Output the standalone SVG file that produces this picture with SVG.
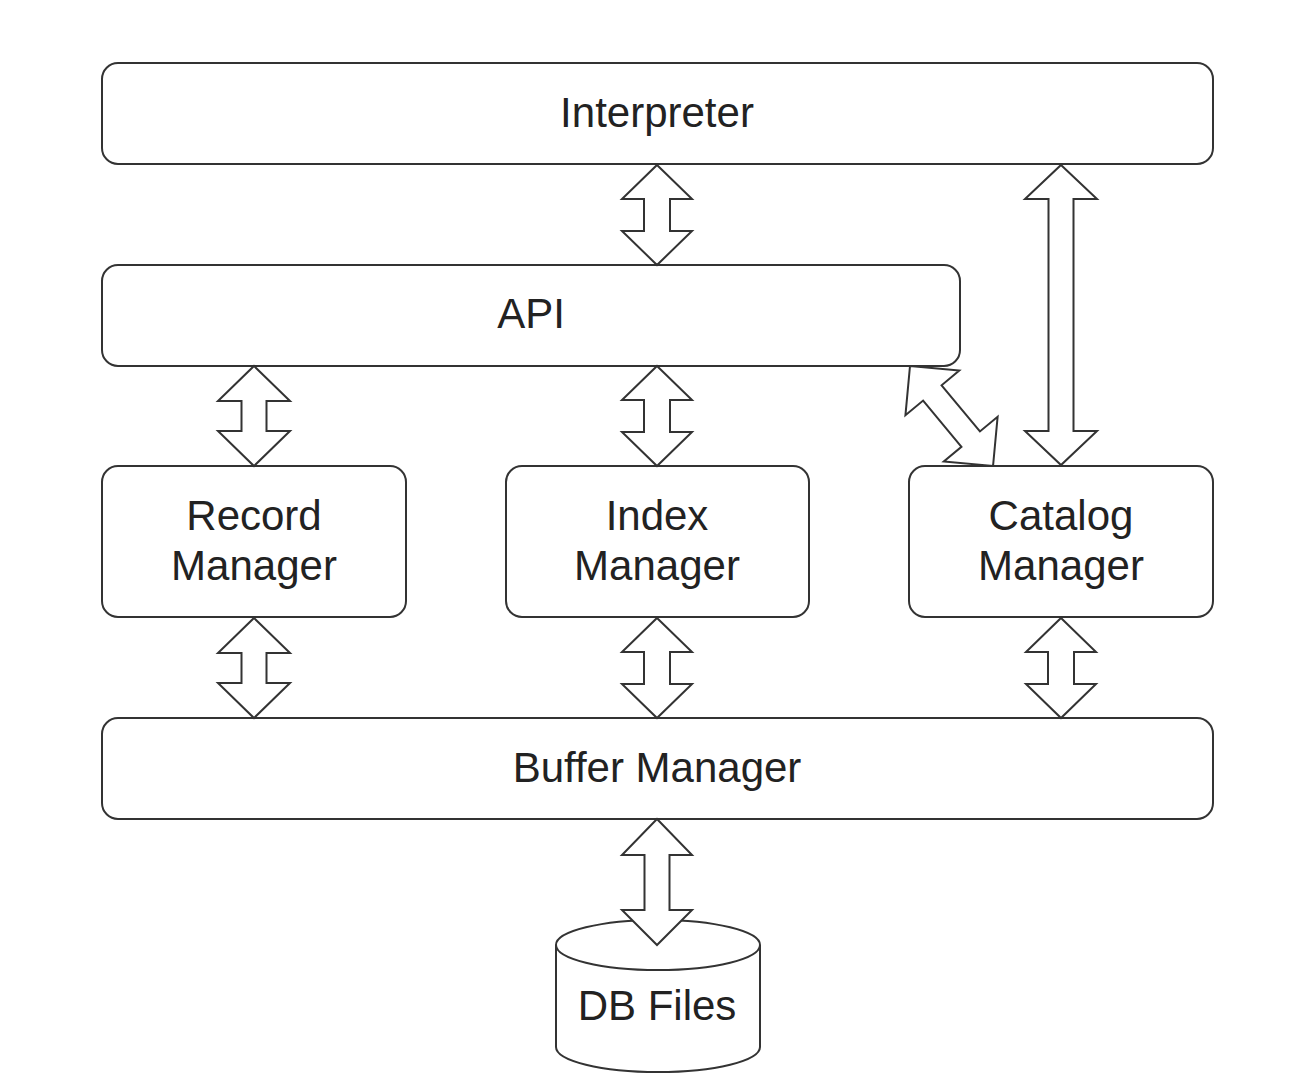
<svg xmlns="http://www.w3.org/2000/svg" width="1316" height="1090" viewBox="0 0 1316 1090">
<style>
.box{fill:#fff;stroke:#333;stroke-width:2}
.arr{fill:#fff;stroke:#333;stroke-width:2;stroke-linejoin:miter}
text{font-family:"Liberation Sans",Arial,sans-serif;font-size:42px;fill:#222;text-anchor:middle}
</style>
<rect width="1316" height="1090" fill="#fff"/>
<g id="interpreter"><rect class="box" x="102" y="63" width="1111" height="101" rx="16"/><text x="657" y="127">Interpreter</text></g>
<g id="api"><rect class="box" x="102" y="265" width="858" height="101" rx="16"/><text x="531" y="328">API</text></g>
<g id="record"><rect class="box" x="102" y="466" width="304" height="151" rx="16"/><text x="254" y="530">Record</text><text x="254" y="580">Manager</text></g>
<g id="index"><rect class="box" x="506" y="466" width="303" height="151" rx="16"/><text x="657" y="530">Index</text><text x="657" y="580">Manager</text></g>
<g id="catalog"><rect class="box" x="909" y="466" width="304" height="151" rx="16"/><text x="1061" y="530">Catalog</text><text x="1061" y="580">Manager</text></g>
<g id="buffer"><rect class="box" x="102" y="718" width="1111" height="101" rx="16"/><text x="657" y="782">Buffer Manager</text></g>
<g id="dbfiles"><path class="box" d="M556,945 L556,1047 A102,25 0 0 0 760,1047 L760,945 A102,25 0 0 0 556,945 A102,25 0 0 0 760,945"/><text x="657" y="1020">DB Files</text></g>
<g id="connectors">
<polygon class="arr" transform="translate(657,165)" points="0,0 35,34 13,34 13,66 35,66 0,100 -35,66 -13,66 -13,34 -35,34"/>
<polygon class="arr" transform="translate(1061,165)" points="0,0 36,34 12.5,34 12.5,266 36,266 0,300 -36,266 -12.5,266 -12.5,34 -36,34"/>
<polygon class="arr" transform="translate(254,366)" points="0,0 36,35 12.5,35 12.5,65 36,65 0,100 -36,65 -12.5,65 -12.5,35 -36,35"/>
<polygon class="arr" transform="translate(657,366)" points="0,0 35,34 13,34 13,66 35,66 0,100 -35,66 -13,66 -13,34 -35,34"/>
<polygon class="arr" transform="translate(910,366) rotate(-39.7)" points="0,0 35,35 12,35 12,95 35,95 0,130 -35,95 -12,95 -12,35 -35,35"/>
<polygon class="arr" transform="translate(254,618)" points="0,0 36,35 12.5,35 12.5,65 36,65 0,100 -36,65 -12.5,65 -12.5,35 -36,35"/>
<polygon class="arr" transform="translate(657,618)" points="0,0 35,34 13,34 13,66 35,66 0,100 -35,66 -13,66 -13,34 -35,34"/>
<polygon class="arr" transform="translate(1061,618)" points="0,0 35,34 13,34 13,66 35,66 0,100 -35,66 -13,66 -13,34 -35,34"/>
<polygon class="arr" transform="translate(657,819)" points="0,0 35,36 12.5,36 12.5,91 35,91 0,126 -35,91 -12.5,91 -12.5,36 -35,36"/>
</g>
</svg>
